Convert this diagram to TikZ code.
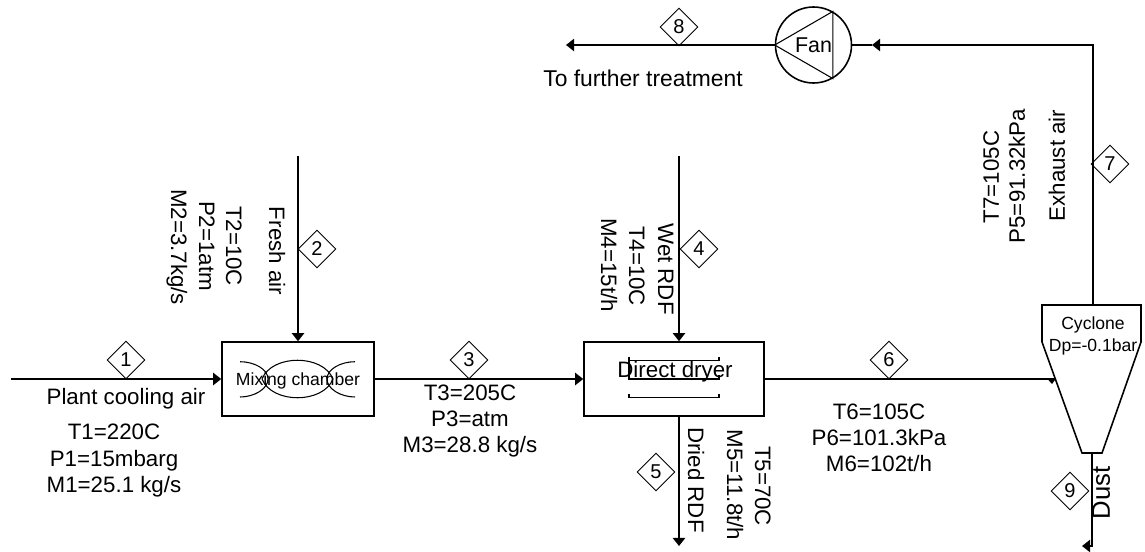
\documentclass[tikz,border=0pt]{standalone}
\usepackage{fontspec}
\setmainfont{Liberation Sans}
\usetikzlibrary{positioning,arrows.meta,shapes.geometric}

\begin{document}
\begin{tikzpicture}[
    x=0.02cm, y=-0.02cm,
    unit/.style      ={rectangle, draw=black, line width=0.9pt, inner sep=0pt},
    flow/.style      ={draw=black, line width=0.9pt, -{Triangle[length=4.6pt, width=7pt]}},
    pipe/.style      ={draw=black, line width=0.9pt},
    inner/.style     ={draw=black, line width=0.6pt},
    tag/.style       ={diamond, draw=black, line width=0.5pt, minimum size=0.76cm, inner sep=0pt, font=\fontsize{11.4}{12}\selectfont},
    lab/.style       ={font=\fontsize{12.7}{14}\selectfont, inner sep=0pt, text height=9pt, text depth=0pt},
    labd/.style      ={lab, rotate=-90},
    labu/.style      ={lab, rotate=90},
    small/.style     ={font=\fontsize{10}{12}\selectfont, inner sep=0pt, text height=7.2pt, text depth=0pt}
  ]
    \useasboundingbox (0,0) rectangle (1145,551);

    % --- Units ---
    \node[unit, minimum width=152*0.02cm, minimum height=74*0.02cm] (mix) at (298,379) {};
    \node[unit, minimum width=180*0.02cm, minimum height=74*0.02cm] (dryer) at (674,379) {};
    \node[circle, draw=black, line width=0.9pt, minimum size=76*0.02cm, inner sep=0pt, font=\fontsize{12.2}{14}\selectfont] (fan) at (813.5,45) {Fan};
    \draw[inner] (fan.west) -- (fan.60) -- (fan.-60) -- cycle;

    % cyclone outline
    \coordinate (cyctop) at (1093,305);
    \coordinate (cycin) at (1055.3,379);
    \coordinate (cycout) at (1092,453);
    \draw[pipe] (1042,305) -- (1141,305) -- (1141,342) -- (1102,453) -- (1082,453) -- (1042,342) -- cycle;
    \node[small] (cyc1) at (1093,323) {Cyclone};
    \node[small] (cyc2) at (1093,345) {Dp=-0.1bar};

    % mixing chamber symbol
    \draw[inner] (240,361.7) .. controls (254,361.7) and (268,369) .. (268,379) .. controls (268,389) and (254,397) .. (240,397);
    \draw[inner] (355,361.7) .. controls (341,361.7) and (327,369) .. (327,379) .. controls (327,389) and (341,397) .. (355,397);
    \draw[inner] (262,379) .. controls (272,354) and (323,354) .. (333,379) .. controls (323,404) and (272,404) .. (262,379);
    \node[small] (mixlab) at (298,379) {Mixing chamber};

    % dryer trays
    \draw[inner] (629,356.7) -- (629,360.6) -- (719,360.6) -- (719,356.7);
    \draw[inner] (629,361) -- (629,379) -- (719,379) -- (719,375);
    \draw[inner] (629,393.5) -- (629,397.7) -- (719,397.7) -- (719,393.5);
    \node[lab] (dryerlab) at (675,370) {Direct dryer};

    % --- Free ends of the streams ---
    \coordinate (in1) at (11,379);
    \coordinate (in2) at (298,156);
    \coordinate (in4) at (679,156);
    \coordinate (out5) at (679,546);
    \coordinate (out8) at (566,45);
    \coordinate (out9) at (1082,546);
    \coordinate (fantip) at (872,45);

    % --- Streams ---
    \draw[flow] (in1) -- (mix.west);
    \draw[flow] (in2) -- (mix.north);
    \draw[flow] (mix.east) -- (dryer.west);
    \draw[flow] (in4) -- (in4 |- dryer.north);
    \draw[flow] (out5 |- dryer.south) -- (out5);
    \draw[pipe] (dryer.east) -- (cycin);
    \fill (1047,378.5) -- (1056,378.5) -- (1052,384) -- cycle;
    \draw[flow] (cyctop) |- (fantip);
    \draw[pipe] (fantip) -- (fan.east);
    \draw[flow] (fan.west) -- (out8);
    \draw[flow] (cycout) |- (out9);

    % stream numbers
    \foreach \n/\px/\py in {1/126/360, 2/317/249, 3/469/360, 4/699/249, 5/656/472, 6/889/360, 7/1110/164, 8/679/27, 9/1070/491} {
      \node[tag] (tag\n) at (\px,\py) {\n};
    }

    % --- Stream data ---
    \node[lab] (name1) at (126,397) {Plant cooling air};
    \node[lab] (t1) at (114,432) {T1=220C};
    \node[lab] (p1) at (114,459) {P1=15mbarg};
    \node[lab] (m1) at (114,485) {M1=25.1 kg/s};

    \node[labd] (name2) at (277,251) {Fresh air};
    \node[labd] (t2) at (234,246) {T2=10C};
    \node[labd] (p2) at (207,246) {P2=1atm};
    \node[labd] (m2) at (179,247) {M2=3.7kg/s};

    \node[lab] (t3) at (470,393) {T3=205C};
    \node[lab] (p3) at (470,419) {P3=atm};
    \node[lab] (m3) at (470,445) {M3=28.8 kg/s};

    \node[labd] (name4) at (666,269) {Wet RDF};
    \node[labd] (t4) at (637,266) {T4=10C};
    \node[labd] (m4) at (609,265) {M4=15t/h};

    \node[labd] (name5) at (696,480) {Dried RDF};
    \node[labd] (t5) at (763,486) {T5=70C};
    \node[labd] (m5) at (735,485) {M5=11.8t/h};

    \node[lab] (t6) at (879,412) {T6=105C};
    \node[lab] (p6) at (879,438) {P6=101.3kPa};
    \node[lab] (m6) at (879,464) {M6=102t/h};

    \node[labu] (name7) at (1057,165.5) {Exhaust air};
    \node[labu] (t7) at (991,177) {T7=105C};
    \node[labu] (p7) at (1017,176) {P5=91.32kPa};

    \node[lab, font=\fontsize{13}{14}\selectfont] (name8) at (643,79) {To further treatment};

    \node[lab, rotate=90, font=\fontsize{14.6}{16}\selectfont] (name9) at (1102,493) {Dust};
\end{tikzpicture}
\end{document}
